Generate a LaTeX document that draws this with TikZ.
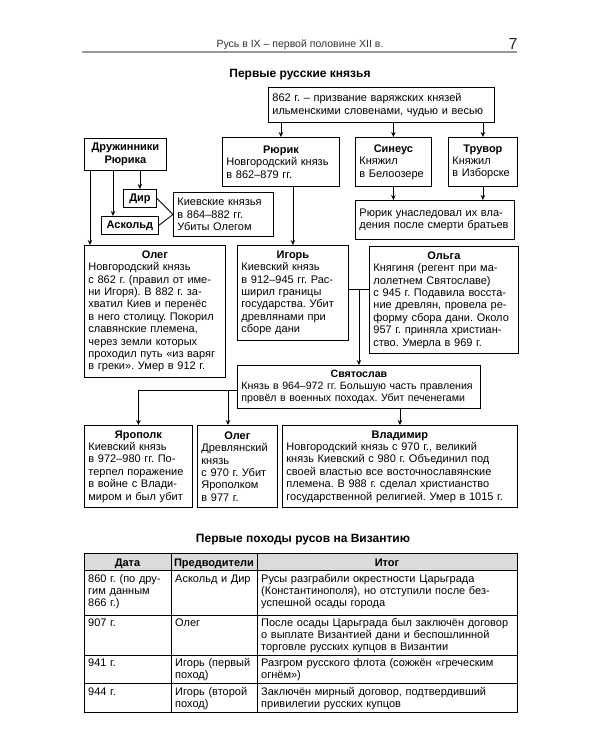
\documentclass[tikz,border=0pt]{standalone}
\usepackage{fontspec}
\setmainfont{Liberation Sans}
\usetikzlibrary{arrows.meta,calc}
\newcommand\ttl[1]{\makebox[\linewidth][c]{\bfseries #1}}
\frenchspacing
\begin{document}
\begin{tikzpicture}[x=1pt,y=-1pt,
  bx/.style={draw, line width=0.85pt, anchor=north west, inner xsep=4pt, inner ysep=1pt, align=left, font=\fontsize{11}{12.4}\selectfont},
  cbx/.style={bx, align=center, font=\fontsize{11}{12.4}\selectfont\bfseries},
  arr/.style={line width=0.85pt, -{Stealth[length=5pt,width=4.5pt]}},
  ln/.style={line width=0.85pt},
  tl/.style={line width=0.7pt},
  cell/.style={anchor=base west, inner sep=0pt, align=left, font=\fontsize{11}{12.4}\selectfont},
  hcell/.style={anchor=base, inner sep=0pt, font=\fontsize{11}{12.4}\selectfont\bfseries},
  ttlnode/.style={anchor=base, inner sep=0pt, font=\fontsize{12}{14}\selectfont\bfseries}]
\useasboundingbox[fill=white] (0,0) rectangle (600,750);

% running head
\node[anchor=base, inner sep=0pt, font=\fontsize{10.5}{12}\selectfont, text=black!80] (head) at (300,47) {Русь в IX – первой половине XII в.};
\node[anchor=base, inner sep=0pt, font=\fontsize{16}{18}\selectfont, text=black!85] (pg) at (513,49) {7};
\draw[line width=1.6pt, black!40] (82,52) -- (517,52);

\node[ttlnode] (t1) at (300,77) {Первые русские князья};

% boxes
\node[bx, text width=218pt, minimum height=35pt] (top) at (268,87)
  {862 г. – призвание варяжских князей\\ильменскими словенами, чудью и весью};
\node[cbx, text width=74pt, minimum height=32pt] (druzh) at (84,138) {Дружинники\\Рюрика};
\node[bx, text width=109pt, minimum height=49pt] (rurik) at (222,137)
  {\ttl{Рюрик}\\Новгородский князь\\в 862–879 гг.};
\node[bx, text width=68pt, minimum height=49pt] (sineus) at (355,137)
  {\ttl{Синеус}\\Княжил\\в Белоозере};
\node[bx, text width=61pt, minimum height=49pt] (truvor) at (448,137)
  {\ttl{Трувор}\\Княжил\\в Изборске};
\node[cbx, text width=25pt, minimum height=18pt] (dir) at (123,189) {Дир};
\node[cbx, text width=49pt, minimum height=18pt] (askold) at (101,216) {Аскольд};
\node[bx, text width=92pt, minimum height=44pt] (kiev) at (173,192)
  {Киевские князья\\в 864–882 гг.\\Убиты Олегом};
\node[bx, text width=151pt, minimum height=39pt] (inherit) at (355,200)
  {Рюрик унаследовал их вла-\\дения после смерти братьев};
\node[bx, text width=133pt, minimum height=132pt] (oleg) at (84,245)
  {\ttl{Олег}\\Новгородский князь\\с 862 г. (правил от име-\\ни Игоря). В 882 г. за-\\хватил Киев и перенёс\\в него столицу. Покорил\\славянские племена,\\через земли которых\\проходил путь «из варяг\\в греки». Умер в 912 г.};
\node[bx, text width=103pt, minimum height=95pt] (igor) at (237,245)
  {\ttl{Игорь}\\Киевский князь\\в 912–945 гг. Рас-\\ширил границы\\государства. Убит\\древлянами при\\сборе дани};
\node[bx, text width=141pt, minimum height=107pt] (olga) at (369,246)
  {\ttl{Ольга}\\Княгиня (регент при ма-\\лолетнем Святославе)\\с 945 г. Подавила восста-\\ние древлян, провела ре-\\форму сбора дани. Около\\957 г. приняла христиан-\\ство. Умерла в 969 г.};
\node[bx, inner xsep=4pt, text width=235pt, minimum height=43pt, font=\fontsize{10.6}{12.4}\selectfont] (svyat) at (237,365)
  {\ttl{Святослав}\\\mbox{Князь в 964–972 гг. Большую часть правления}\\\mbox{провёл в военных походах. Убит печенегами}};
\node[bx, text width=100pt, minimum height=82pt] (yaropolk) at (84,425)
  {\ttl{Ярополк}\\Киевский князь\\в 972–980 гг. По-\\терпел поражение\\в войне с Влади-\\миром и был убит};
\node[bx, text width=72pt, minimum height=82pt] (oleg2) at (197,425)
  {\ttl{Олег}\\Древлянский\\князь\\с 970 г. Убит\\Ярополком\\в 977 г.};
\node[bx, text width=227pt, minimum height=82pt] (vlad) at (282,425)
  {\ttl{Владимир}\\Новгородский князь с 970 г., великий\\князь Киевский с 980 г. Объединил под\\своей властью все восточнославянские\\племена. В 988 г. сделал христианство\\государственной религией. Умер в 1015 г.};

% connectors
\draw[arr] (rurik.north |- top.south) -- (rurik.north);
\draw[arr] (sineus.north |- top.south) -- (sineus.north);
\draw[arr] (truvor.north |- top.south) -- (truvor.north);
\draw[arr] (sineus.south) -- (sineus.south |- inherit.north);
\draw[arr] (truvor.south) -- (truvor.south |- inherit.north);
\draw[arr] (igor.north |- rurik.south) -- (igor.north);
\coordinate (askIn) at ([xshift=12pt]askold.north west);
\coordinate (olegIn) at ([xshift=6pt]oleg.north west);
\draw[arr] (dir.north |- druzh.south) -- (dir.north);
\draw[arr] (askIn |- druzh.south) -- (askIn);
\draw[arr] (olegIn |- druzh.south) -- (olegIn);
\draw[ln] (dir.east) -- (kiev.west) -- (askold.east);
\coordinate (jy) at (0,289);
\draw[ln] (igor.east |- jy) -- (olga.west |- jy);
\draw[arr] (svyat.north |- jy) -- (svyat.north);
\coordinate (sy) at (0,390);
\coordinate (o2In) at ([xshift=31pt]oleg2.north west);
\draw[arr] (svyat.west |- sy) -| (yaropolk.north);
\draw[arr] (o2In |- sy) -- (o2In);
\draw[arr] (vlad.north |- svyat.south) -- (vlad.north);

% second title
\node[ttlnode] (t2) at (303,542) {Первые походы русов на Византию};

% table
\fill[black!14] (84,553) rectangle (517,570);
\draw[tl] (84,553) rectangle (517,712);
\foreach \yy in {570,615,655,683} \draw[tl] (84,\yy) -- (517,\yy);
\foreach \xx in {171,257} \draw[tl] (\xx,553) -- (\xx,712);

\node[hcell] (h1) at (127.5,566) {Дата};
\node[hcell] (h2) at (214,566) {Предводители};
\node[hcell] (h3) at (387,566) {Итог};

\node[cell, text width=84pt] (r1a) at (88,582) {860 г. (по дру-\\гим данным\\866 г.)};
\node[cell, text width=84pt] (r1b) at (175,582) {Аскольд и Дир};
\node[cell, text width=256pt] (r1c) at (261,582) {Русы разграбили окрестности Царьграда\\(Константинополя), но отступили после без-\\успешной осады города};
\node[cell, text width=84pt] (r2a) at (88,626) {907 г.};
\node[cell, text width=84pt] (r2b) at (175,626) {Олег};
\node[cell, text width=256pt] (r2c) at (261,626) {После осады Царьграда был заключён договор\\о выплате Византией дани и беспошлинной\\торговле русских купцов в Византии};
\node[cell, text width=84pt] (r3a) at (88,666) {941 г.};
\node[cell, text width=84pt] (r3b) at (175,666) {Игорь (первый\\поход)};
\node[cell, text width=256pt] (r3c) at (261,666) {Разгром русского флота (сожжён «греческим\\огнём»)};
\node[cell, text width=84pt] (r4a) at (88,695) {944 г.};
\node[cell, text width=84pt] (r4b) at (175,695) {Игорь (второй\\поход)};
\node[cell, text width=256pt] (r4c) at (261,695) {Заключён мирный договор, подтвердивший\\привилегии русских купцов};
\end{tikzpicture}
\end{document}
